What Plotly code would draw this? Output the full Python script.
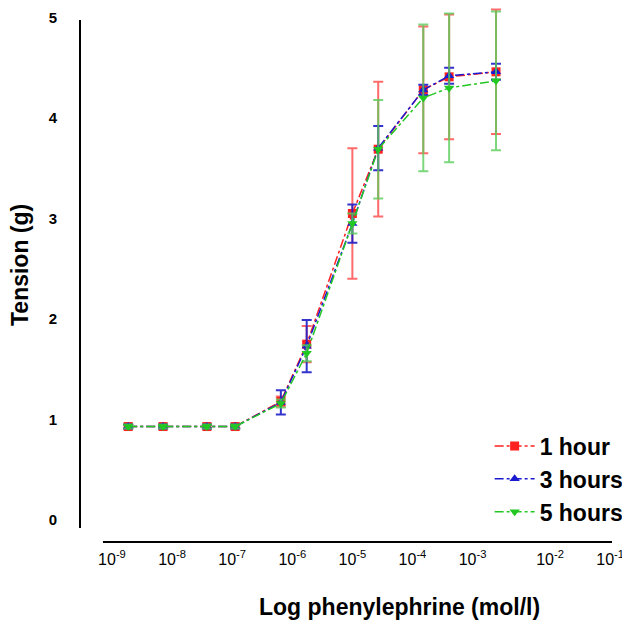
import plotly.graph_objects as go

# log10 of phenylephrine concentration (mol/l)
log_conc = [-8.73, -8.15, -7.42, -6.95, -6.19, -5.76, -5.0, -4.57, -3.82, -3.39, -2.61]

tension_1h = [0.93, 0.93, 0.93, 0.93, 1.18, 1.75, 3.05, 3.69, 4.28, 4.41, 4.46]
sem_1h = [0.02, 0.02, 0.02, 0.02, 0.05, 0.18, 0.65, 0.67, 0.63, 0.62, 0.62]

tension_3h = [0.93, 0.93, 0.93, 0.93, 1.17, 1.73, 2.95, 3.70, 4.28, 4.42, 4.46]
sem_3h = [0.02, 0.02, 0.02, 0.02, 0.12, 0.26, 0.19, 0.22, 0.05, 0.08, 0.08]

tension_5h = [0.93, 0.93, 0.93, 0.93, 1.16, 1.66, 2.95, 3.69, 4.20, 4.30, 4.37]
sem_5h = [0.02, 0.02, 0.02, 0.02, 0.04, 0.08, 0.10, 0.49, 0.73, 0.74, 0.69]

# x tick labels (the original spacing is not quite even past 10^-3)
tick_pos = [-9, -8, -7, -6, -5, -4, -3, -1.71, -0.71]
tick_text = ["10<sup>-9</sup>", "10<sup>-8</sup>", "10<sup>-7</sup>", "10<sup>-6</sup>",
             "10<sup>-5</sup>", "10<sup>-4</sup>", "10<sup>-3</sup>", "10<sup>-2</sup>",
             "10<sup>-1</sup>"]

series = [
    ("1 hour", tension_1h, sem_1h, "#ff2020", "rgba(255,70,70,0.8)", "square"),
    ("3 hours", tension_3h, sem_3h, "#1a1ad0", "rgba(30,30,200,0.9)", "triangle-up"),
    ("5 hours", tension_5h, sem_5h, "#22c822", "rgba(90,205,90,0.8)", "triangle-down"),
]

fig = go.Figure()
for name, y, err, col, ecol, sym in series:
    fig.add_trace(go.Scatter(
        x=log_conc, y=y, name=name, mode="lines+markers", cliponaxis=False,
        line=dict(color=col, width=1.5, dash="dashdot"),
        marker=dict(symbol=sym, size=9, color=col),
        error_y=dict(type="data", array=err, visible=True, color=ecol,
                     thickness=2, width=5),
    ))

# the page adds an 8px body margin, so the figure is 8px smaller than the window
fig.update_layout(
    width=622, height=614,
    margin=dict(l=72, r=18, t=0, b=80),
    plot_bgcolor="white", paper_bgcolor="white",
    font=dict(family="Liberation Sans, Arial, sans-serif", color="black"),
    legend=dict(x=0.77, y=0.22, xanchor="left", yanchor="top",
                font=dict(size=23, family="Liberation Sans, Arial", weight="bold"),
                bgcolor="rgba(0,0,0,0)", tracegroupgap=0, itemwidth=40),
    xaxis=dict(range=[-9.532, -0.68], showgrid=False, zeroline=False, showline=False,
               automargin=False,
               tickvals=tick_pos, ticktext=tick_text, ticks="",
               tickfont=dict(size=16), ticklabelstandoff=6),
    yaxis=dict(range=[-0.219, 5.095], showgrid=False, zeroline=False, showline=False,
               automargin=False,
               tickvals=[0, 1, 2, 3, 4, 5], ticktext=["<b>%d</b>" % v for v in range(6)],
               ticks="", tickfont=dict(size=15), ticklabelstandoff=22),
)

# axis titles sit off-centre in the original, so place them as annotations
fig.add_annotation(text="<b>Log phenylephrine (mol/l)</b>", xref="paper", yref="paper",
                   x=0.60, y=-0.1217, showarrow=False, font=dict(size=23),
                   xanchor="center", yanchor="middle")
fig.add_annotation(text="<b>Tension (g)</b>", xref="paper", yref="paper",
                   x=-0.1128, y=0.5187, showarrow=False, font=dict(size=23),
                   textangle=-90, xanchor="center", yanchor="middle")

# detached axis lines, as in the original
fig.add_shape(type="line", xref="paper", yref="y", x0=0, x1=0, y0=-0.08, y1=4.975,
              line=dict(color="black", width=2))
fig.add_shape(type="line", xref="x", yref="paper", x0=-9.15, x1=-0.68, y0=0, y1=0,
              line=dict(color="black", width=2))

fig.write_html("out.html")
